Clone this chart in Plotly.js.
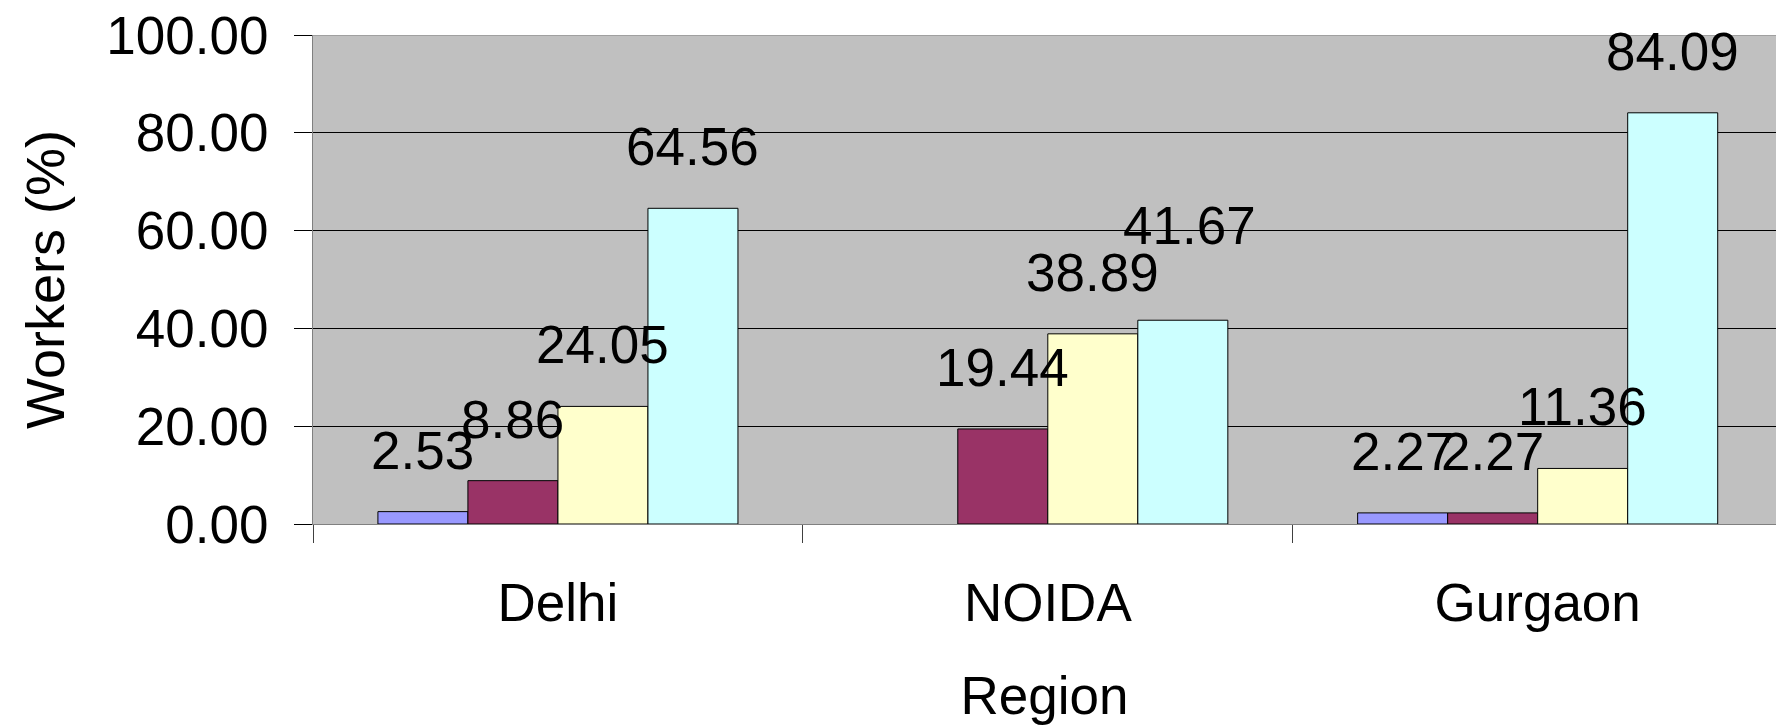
<!DOCTYPE html>
<html>
<head>
<meta charset="utf-8">
<script src="https://cdn.plot.ly/plotly-3.0.1.min.js"></script>
<style>html,body{margin:0;padding:0;background:#fff;overflow:hidden}</style>
</head>
<body>
<div id="chart" style="width:1776px;height:725px"></div>
<script>
const regions = ["Delhi", "NOIDA", "Gurgaon"];
const seriesNames = ["Series A", "Series B", "Series C", "Series D"];
const seriesA = [2.53, 0, 2.27];
const seriesB = [8.86, 19.44, 2.27];
const seriesC = [24.05, 38.89, 11.36];
const seriesD = [64.56, 41.67, 84.09];
const seriesValues = [seriesA, seriesB, seriesC, seriesD];
const seriesColors = ["#9999FF", "#993366", "#FFFFCC", "#CCFFFF"];
const yTickVals = [0, 20, 40, 60, 80, 100];
const yTickText = ["0.00", "20.00", "40.00", "60.00", "80.00", "100.00"];

const FONT = "Liberation Sans, Arial, sans-serif";
const bargap = 0.265;
const nSeries = seriesValues.length;
// label placed a bit higher in the original (series D, NOIDA) to avoid overlap
const labelNudge = { "3-1": { dx: 7, dy: 33 } };

const traces = seriesValues.map((vals, i) => ({
  type: "bar",
  name: seriesNames[i],
  x: regions,
  y: vals,
  marker: {
    color: seriesColors[i],
    line: { color: "#000000", width: vals.map(v => (v === 0 ? 0 : 1)) }
  },
  hoverinfo: "x+y"
}));

const annotations = [];
seriesValues.forEach((vals, i) => {
  vals.forEach((v, j) => {
    if (v === 0) return;
    const n = labelNudge[i + "-" + j] || { dx: 0, dy: 0 };
    annotations.push({
      x: j + (i - (nSeries - 1) / 2) * (1 - bargap) / nSeries,
      y: v,
      xref: "x", yref: "y",
      text: v.toFixed(2),
      showarrow: false,
      yanchor: "bottom",
      xanchor: "center",
      xshift: n.dx,
      yshift: 30 + n.dy,
      font: { family: FONT, size: 53, color: "#000000" }
    });
  });
});

const layout = {
  width: 1776,
  height: 725,
  margin: { l: 313, r: 0, t: 35, b: 201, pad: 0 },
  paper_bgcolor: "#FFFFFF",
  plot_bgcolor: "#C0C0C0",
  showlegend: false,
  barmode: "group",
  bargap: bargap,
  bargroupgap: 0,
  font: { family: FONT, size: 53, color: "#000000" },
  xaxis: {
    type: "category",
    range: [-0.5, 2.4865],
    tickson: "boundaries",
    ticks: "outside",
    ticklen: 18,
    tickwidth: 1,
    tickcolor: "#404040",
    showline: true,
    linecolor: "#808080",
    linewidth: 1,
    showgrid: false,
    zeroline: false,
    tickfont: { family: FONT, size: 53, color: "#000000" },
    ticklabelstandoff: 32,
    title: { text: "Region", font: { family: FONT, size: 53, color: "#000000" }, standoff: 48 },
    fixedrange: true
  },
  yaxis: {
    range: [0, 100],
    tickvals: yTickVals,
    ticktext: yTickText,
    ticks: "outside",
    ticklen: 18,
    tickwidth: 1,
    tickcolor: "#000000",
    showline: true,
    linecolor: "#808080",
    linewidth: 1,
    mirror: false,
    showgrid: true,
    gridcolor: "#000000",
    gridwidth: 1,
    zeroline: false,
    tickfont: { family: FONT, size: 53, color: "#000000" },
    ticklabelstandoff: 15,
    title: { text: "Workers (%)", font: { family: FONT, size: 54, color: "#000000" }, standoff: 24 },
    fixedrange: true
  },
  shapes: [{
    type: "line", xref: "paper", yref: "y", x0: 0, x1: 1, y0: 100, y1: 100,
    line: { color: "#808080", width: 1 }
  }],
  annotations: annotations
};

Plotly.newPlot("chart", traces, layout, { displayModeBar: false, staticPlot: true });
</script>
</body>
</html>
